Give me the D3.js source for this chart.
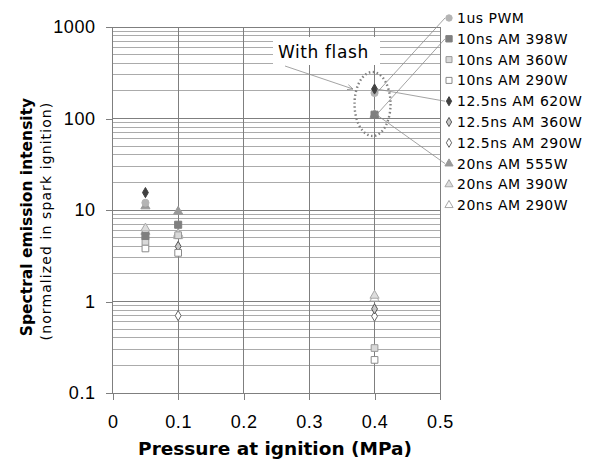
<!DOCTYPE html>
<html><head><meta charset="utf-8">
<script src="https://cdn.jsdelivr.net/npm/d3@7"></script>
<style>body{margin:0;background:#fff}svg{display:block}</style>
</head><body>
<script>
const pressures = [0.05, 0.1, 0.4];
const seriesNames = ["1us PWM","10ns AM 398W","10ns AM 360W","10ns AM 290W","12.5ns AM 620W","12.5ns AM 360W","12.5ns AM 290W","20ns AM 555W","20ns AM 390W","20ns AM 290W"];
const s1usPWM     = [12,   null, 190];
const s10ns398    = [5.2,  6.9,  110];
const s10ns360    = [4.5,  5.3,  0.31];
const s10ns290    = [3.8,  3.4,  0.23];
const s125ns620   = [15.5, null, 210];
const s125ns360   = [4.8,  4.0,  0.83];
const s125ns290   = [4.3,  0.7,  0.69];
const s20ns555    = [11,   9.6,  110];
const s20ns390    = [6.3,  5.5,  1.16];
const s20ns290    = [5.8,  5.2,  1.08];
const seriesValues = [s1usPWM,s10ns398,s10ns360,s10ns290,s125ns620,s125ns360,s125ns290,s20ns555,s20ns390,s20ns290];
const xTicks = [0,0.1,0.2,0.3,0.4,0.5];
const yTicks = [0.1,1,10,100,1000];
const yTickLabels = ["0.1","1","10","100","1000"];

const styles = [
  {sym:d3.symbolCircle,  fill:"#b4b4b4", stroke:"#b4b4b4", size:40},
  {sym:d3.symbolSquare,  fill:"#7f7f7f", stroke:"#7f7f7f", size:50},
  {sym:d3.symbolSquare,  fill:"#d9d9d9", stroke:"#9a9a9a", size:45},
  {sym:d3.symbolSquare,  fill:"#ffffff", stroke:"#8a8a8a", size:45},
  {sym:d3.symbolDiamond, fill:"#404040", stroke:"#404040", size:30},
  {sym:d3.symbolDiamond, fill:"#c8c8c8", stroke:"#555555", size:30},
  {sym:d3.symbolDiamond, fill:"#ffffff", stroke:"#666666", size:30},
  {sym:d3.symbolTriangle,fill:"#999999", stroke:"#999999", size:36},
  {sym:d3.symbolTriangle,fill:"#dddddd", stroke:"#a8a8a8", size:36},
  {sym:d3.symbolTriangle,fill:"#ffffff", stroke:"#a8a8a8", size:36}
];

const W=598,H=462;
const svg=d3.select("body").append("svg").attr("width",W).attr("height",H);
const x=d3.scaleLinear().domain([0,0.5]).range([112.7,440]);
const y=d3.scaleLog().domain([0.1,1000]).range([393,27]);
const font="Liberation Sans, Arial, sans-serif";
const wfont="DejaVu Sans, Verdana, sans-serif";

// minor gridlines
const minors=[];
for(let e=-1;e<3;e++) for(let m=2;m<=9;m++) minors.push(m*Math.pow(10,e));
svg.append("g").selectAll("line").data(minors).join("line")
  .attr("x1",x(0)).attr("x2",x(0.5)).attr("y1",d=>y(d)).attr("y2",d=>y(d))
  .attr("stroke","#ababab").attr("stroke-width",1).attr("shape-rendering","crispEdges");
// major gridlines
svg.append("g").selectAll("line").data(yTicks.slice(1)).join("line")
  .attr("x1",x(0)).attr("x2",x(0.5)).attr("y1",d=>y(d)).attr("y2",d=>y(d))
  .attr("stroke","#7f7f7f").attr("stroke-width",1).attr("shape-rendering","crispEdges");
// vertical gridlines
svg.append("g").selectAll("line").data(xTicks.slice(1)).join("line")
  .attr("x1",d=>x(d)).attr("x2",d=>x(d)).attr("y1",y(1000)).attr("y2",y(0.1))
  .attr("stroke","#7f7f7f").attr("stroke-width",1).attr("shape-rendering","crispEdges");

// axes
const xAxis=d3.axisBottom(x).tickValues(xTicks).tickFormat(d3.format("")).tickSize(7).tickPadding(15);
const gx=svg.append("g").attr("transform",`translate(0,${y(0.1)})`).call(xAxis);
gx.selectAll("path,line").attr("stroke","#7f7f7f").attr("shape-rendering","crispEdges");
gx.selectAll("text").attr("font-family",font).attr("font-size",18).attr("letter-spacing",0.6).attr("fill","#000");

const yAxis=d3.axisLeft(y).tickValues(yTicks).tickFormat((d,i)=>yTickLabels[i]).tickSize(7).tickPadding(10);
const gy=svg.append("g").attr("transform",`translate(${x(0)},0)`).call(yAxis);
gy.selectAll("path,line").attr("stroke","#7f7f7f").attr("shape-rendering","crispEdges");
gy.select("path.domain").attr("d",`M-7,${y(1000)}H0V${y(0.1)}H-7`);
gy.selectAll("text").attr("font-family",font).attr("font-size",18).attr("letter-spacing",0.6).attr("fill","#000");

// axis titles
svg.append("text").attr("x",275).attr("y",455).attr("text-anchor","middle")
  .attr("font-family",wfont).attr("font-weight","bold").attr("font-size",18.5)
  .text("Pressure at ignition (MPa)");
svg.append("text").attr("transform","translate(32,217) rotate(-90)").attr("text-anchor","middle")
  .attr("font-family",wfont).attr("font-weight","bold").attr("font-size",15.5)
  .text("Spectral emission intensity");
svg.append("text").attr("transform","translate(51,221) rotate(-90)").attr("text-anchor","middle")
  .attr("font-family",wfont).attr("font-size",14).attr("letter-spacing",1.1)
  .text("(normalized in spark ignition)");

// legend background
const legX=449, legY0=18, legDy=20.8;
svg.append("rect").attr("x",441).attr("y",0).attr("width",W-441).attr("height",214).attr("fill","#fff");

// points (draw order so first series on top)
const pts=[];
seriesValues.forEach((vals,si)=>vals.forEach((v,pi)=>{ if(v!=null) pts.push({si,p:pressures[pi],v}); }));
const order=[9,8,7,6,5,3,2,1,0,4];
order.forEach(si=>{
  const st=styles[si];
  svg.append("g").selectAll("path").data(pts.filter(d=>d.si===si)).join("path")
    .attr("transform",d=>`translate(${x(d.p)},${y(d.v)})`)
    .attr("d",d3.symbol().type(st.sym).size(st.size))
    .attr("fill",st.fill).attr("stroke",st.stroke).attr("stroke-width",1);
});

// leader lines
const leaders=[[0,2],[1,2],[4,2],[7,2]];
svg.append("g").selectAll("line").data(leaders).join("line")
  .attr("x1",d=>x(pressures[d[1]])+2).attr("y1",d=>y(seriesValues[d[0]][d[1]]))
  .attr("x2",legX-4).attr("y2",d=>legY0+d[0]*legDy)
  .attr("stroke","#8c8c8c").attr("stroke-width",0.8);

// legend
const leg=svg.append("g").selectAll("g").data(seriesNames).join("g")
  .attr("transform",(d,i)=>`translate(${legX},${legY0+i*legDy})`);
leg.append("path").attr("d",(d,i)=>d3.symbol().type(styles[i].sym).size(styles[i].size*0.8)())
  .attr("fill",(d,i)=>styles[i].fill).attr("stroke",(d,i)=>styles[i].stroke);
leg.append("text").attr("x",8).attr("y",5).attr("font-family",wfont).attr("font-size",14)
  .attr("letter-spacing",0.5).attr("fill","#000").text(d=>d);

// "With flash" annotation
svg.append("rect").attr("x",273).attr("y",37).attr("width",107).attr("height",28).attr("fill","#fff");
svg.append("ellipse").attr("cx",x(0.4)-2).attr("cy",104).attr("rx",18).attr("ry",32)
  .attr("fill","none").attr("stroke","#808080").attr("stroke-width",2.4).attr("stroke-dasharray","1.5,2.5");
svg.append("text").attr("x",278).attr("y",58).attr("font-family",wfont).attr("font-size",17)
  .attr("letter-spacing",0.6).attr("fill","#000").text("With flash");
svg.append("defs").append("marker").attr("id","ah").attr("viewBox","0 0 10 10").attr("refX",9).attr("refY",5)
  .attr("markerWidth",8).attr("markerHeight",8).attr("orient","auto")
  .append("path").attr("d","M0,1L9,5L0,9").attr("fill","none").attr("stroke","#8c8c8c").attr("stroke-width",1.2);
svg.append("line").attr("x1",285).attr("y1",66).attr("x2",353).attr("y2",89)
  .attr("stroke","#8c8c8c").attr("stroke-width",0.8).attr("marker-end","url(#ah)");
</script>
</body></html>
